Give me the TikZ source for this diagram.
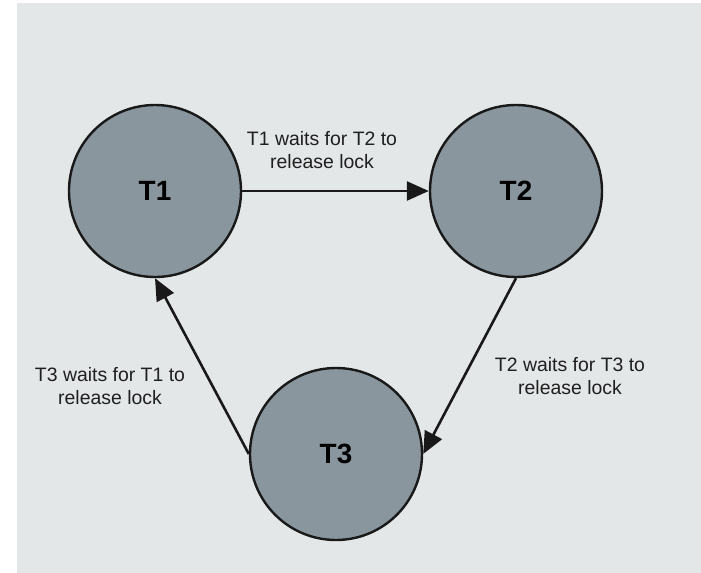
\documentclass[tikz,border=0pt]{standalone}
\usepackage{fontspec}
\setmainfont{Liberation Sans}
\usetikzlibrary{arrows.meta}
\definecolor{bgc}{RGB}{228,231,232}
\definecolor{nodec}{RGB}{138,150,158}
\definecolor{linec}{RGB}{25,25,25}
\tikzset{
  txnode/.style={circle, draw=linec, line width=2.4bp, fill=nodec, minimum size=172bp, inner sep=0pt,
    font=\fontsize{28}{30}\selectfont\bfseries, text=black},
  waitlabel/.style={align=center, font=\fontsize{19.5}{23.5}\selectfont, text=black!88, inner sep=0pt},
  waitarrow/.style={line width=2.6bp, draw=linec, -{Triangle[length=22bp, width=19bp]}}
}
\begin{document}
\begin{tikzpicture}[x=1bp, y=-1bp]
  \useasboundingbox (0,0) rectangle (701,573);
  \fill[white] (0,0) rectangle (701,573);
  \fill[bgc] (17,3) rectangle (701,573);
  \node[txnode] (t1) at (155,191) {T1};
  \node[txnode] (t2) at (516,191) {T2};
  \node[txnode] (t3) at (336,454) {T3};
  \draw[waitarrow] (t1.east) -- (t2.west);
  \draw[waitarrow] (t2.south) -- (t3.east);
  \draw[waitarrow] (t3.west) -- (t1.south);
  \node[waitlabel] (l12) at (322,150) {T1 waits for T2 to\\release lock};
  \node[waitlabel] (l23) at (570,376) {T2 waits for T3 to\\release lock};
  \node[waitlabel] (l31) at (110,386) {T3 waits for T1 to\\release lock};
\end{tikzpicture}
\end{document}
